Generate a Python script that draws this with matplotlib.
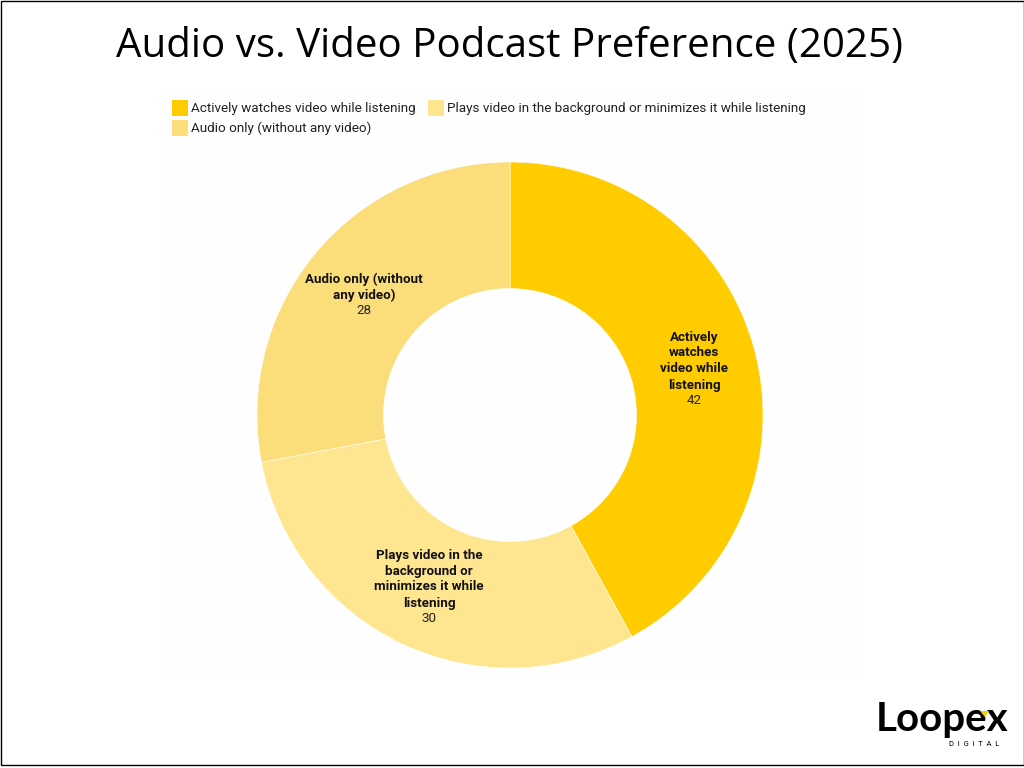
import matplotlib
matplotlib.use("Agg")
import matplotlib.pyplot as plt
from matplotlib.patches import Rectangle, Polygon

# data
categories = ["Actively watches video while listening",
              "Plays video in the background or minimizes it while listening",
              "Audio only (without any video)"]
values = [42, 30, 28]
slice_labels = ["Actively\nwatches\nvideo while\nlistening",
                "Plays video in the\nbackground or\nminimizes it while\nlistening",
                "Audio only (without\nany video)"]
colors = ["#FFCC00", "#FEE691", "#FBDD7A"]

W, H = 1024, 768
plt.rcParams["font.family"] = "Roboto"
fig = plt.figure(figsize=(W / 100, H / 100), dpi=100, facecolor="white")


def pixel_axes(z):
    a = fig.add_axes([0, 0, 1, 1], zorder=z)
    a.set_xlim(0, W)
    a.set_ylim(H, 0)
    a.axis("off")
    return a


# frame and panel sit behind the donut
back = pixel_axes(0)
back.add_patch(Rectangle((0.5, 0.5), W - 1, 764, fc="white", ec="black", lw=1))
back.add_patch(Rectangle((160, 90), 700, 590, fc="#FEFEFE", ec="none"))

# donut
cx, cy, r = 510, 415, 253
ax = fig.add_axes([(cx - r) / W, 1 - (cy + r) / H, 2 * r / W, 2 * r / H], zorder=1)
ax.pie(values, colors=colors, startangle=90, counterclock=False, radius=1,
       wedgeprops={"width": 0.5, "edgecolor": "white", "linewidth": 0.4})
ax.set_xlim(-1, 1)
ax.set_ylim(-1, 1)

# texts on top
top_ax = pixel_axes(2)
top_ax.text(510, 46.5, "Audio vs. Video Podcast Preference (2025)", ha="center", va="center",
            fontsize=29, family="Open Sans", color="black")

# legend
legend_items = [(172, 108), (428, 108), (172, 128)]
for (lx, ly), name, c in zip(legend_items, categories, colors):
    top_ax.add_patch(Rectangle((lx - 0.5, ly - 8), 16, 16, fc=c, ec="none"))
    top_ax.text(lx + 19, ly + 0.5, name, ha="left", va="center", fontsize=9.7, color="#222222")

# slice labels, bold name then plain value
label_pos = [(694, 361), (429, 579), (364, 287)]
for (tx, ty), lab, v in zip(label_pos, slice_labels, values):
    n = lab.count("\n") + 1
    top = ty - (n * 16) / 2
    for i, line in enumerate(lab.split("\n")):
        top_ax.text(tx, top + 8 + i * 16, line, ha="center", va="center", fontsize=9.6,
                    fontweight="bold", color="#111111")
    top_ax.text(tx, top + 8 + n * 16, str(v), ha="center", va="center", fontsize=9.6, color="#222222")

# logo
top_ax.text(876, 720, "Loopex", ha="left", va="center", fontsize=29, fontweight="bold",
            family="Lato", color="black")
top_ax.text(974, 743.5, "D  I  G  I  T  A  L", ha="center", va="center", fontsize=5.5, color="black")
top_ax.add_patch(Polygon([[980, 711], [989, 711], [985, 717]], fc="#FFCC00", ec="none", zorder=5))

fig.savefig("out.png", dpi=100)
